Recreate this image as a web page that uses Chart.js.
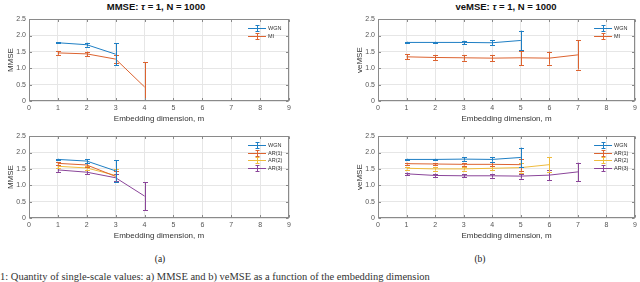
<!DOCTYPE html>
<html><head><meta charset="utf-8">
<script src="https://cdn.jsdelivr.net/npm/chart.js@4/dist/chart.umd.min.js"></script>
<style>
html,body{margin:0;padding:0;background:#fff;}
body{width:640px;height:282px;position:relative;overflow:hidden;font-family:'Liberation Sans',Arial,sans-serif;}
canvas{position:absolute;}
.ttl{position:absolute;font-weight:bold;font-size:9.5px;color:#111;white-space:nowrap;transform:translateX(-50%);top:1px;}
.cap{position:absolute;font-family:'Liberation Serif','Times New Roman',serif;font-size:9.5px;transform:translateX(-50%);top:254px;color:#222;}
.foot{position:absolute;left:0;top:271px;font-family:'Liberation Serif','Times New Roman',serif;font-size:10.5px;white-space:nowrap;color:#333;}
</style></head><body>
<div class="ttl" style="left:156px">MMSE: <i>τ</i> = 1, N = 1000</div>
<div class="ttl" style="left:506px">veMSE: <i>τ</i> = 1, N = 1000</div>
<canvas id="c1" width="300" height="120" style="left:0px;top:12px"></canvas>
<canvas id="c2" width="291" height="120" style="left:349px;top:12px"></canvas>
<canvas id="c3" width="300" height="120" style="left:0px;top:129px"></canvas>
<canvas id="c4" width="291" height="120" style="left:349px;top:129px"></canvas>
<div class="cap" style="left:160px">(a)</div>
<div class="cap" style="left:480px">(b)</div>
<div class="foot">1: Quantity of single-scale values: a) MMSE and b) veMSE as a function of the embedding dimension</div>
<script>
// ---- tick labels ----
const xTicks = [0,1,2,3,4,5,6,7,8,9];
const yTicks = [0,0.5,1,1.5,2,2.5];

// ---- categories (embedding dimension m) ----
const m3 = [1,2,3];
const m4 = [1,2,3,4];
const m5 = [1,2,3,4,5];
const m6 = [1,2,3,4,5,6];
const m7 = [1,2,3,4,5,6,7];

// ---- MMSE (top-left) ----
const mmseWGN    = [1.78,1.72,1.43];
const mmseWGNErr = [0.02,0.06,0.33];
const mmseMI     = [1.47,1.44,1.28,0.43];
const mmseMIErr  = [0.06,0.07,0.12,0.76];

// ---- veMSE (top-right) ----
const vemseWGN    = [1.79,1.79,1.79,1.78,1.85];
const vemseWGNErr = [0.02,0.02,0.05,0.07,0.30];
const vemseMI     = [1.35,1.33,1.32,1.31,1.32,1.31,1.41];
const vemseMIErr  = [0.08,0.08,0.09,0.10,0.22,0.20,0.45];

// ---- MMSE AR (bottom-left) ----
const mmseArWGN    = [1.79,1.74,1.44];
const mmseArWGNErr = [0.02,0.06,0.33];
const mmseAR1      = [1.67,1.62,1.27];
const mmseAR1Err   = [0.04,0.05,0.16];
const mmseAR2      = [1.58,1.53,1.30];
const mmseAR2Err   = [0.05,0.05,0.20];
const mmseAR3      = [1.47,1.40,1.23,0.67];
const mmseAR3Err   = [0.06,0.07,0.11,0.43];

// ---- veMSE AR (bottom-right) ----
const vemseArWGN    = [1.79,1.79,1.80,1.79,1.85];
const vemseArWGNErr = [0.02,0.02,0.05,0.07,0.30];
const vemseAR1      = [1.66,1.65,1.64,1.64,1.63];
const vemseAR1Err   = [0.03,0.03,0.04,0.06,0.18];
const vemseAR2      = [1.52,1.50,1.50,1.52,1.54,1.63];
const vemseAR2Err   = [0.04,0.05,0.05,0.06,0.15,0.22];
const vemseAR3      = [1.35,1.30,1.29,1.29,1.28,1.31,1.41];
const vemseAR3Err   = [0.04,0.06,0.05,0.06,0.08,0.15,0.28];

const C_BLUE='#1f7fc4', C_ORANGE='#dc6330', C_YELLOW='#efbb3c', C_PURPLE='#8a4599';
const FONT="'Liberation Sans', Arial, sans-serif";

const errPlugin = {
  id:'errbars',
  afterDatasetDraw(chart, args){
    const ds = chart.data.datasets[args.index];
    const ctx = chart.ctx, xs = chart.scales.x, ys = chart.scales.y, a = chart.chartArea;
    ctx.save();
    ctx.beginPath(); ctx.rect(a.left, a.top, a.right-a.left, a.bottom-a.top); ctx.clip();
    ctx.strokeStyle = ds.borderColor; ctx.lineWidth = 1;
    ds.data.forEach((p,i)=>{
      const e = ds.errors[i];
      const x = Math.round(xs.getPixelForValue(p.x)) + 0.5;
      const y1 = ys.getPixelForValue(p.y + e), y2 = ys.getPixelForValue(p.y - e);
      ctx.beginPath();
      ctx.moveTo(x, y1); ctx.lineTo(x, y2);
      ctx.moveTo(x-2.5, Math.round(y1)+0.5); ctx.lineTo(x+2.5, Math.round(y1)+0.5);
      ctx.moveTo(x-2.5, Math.round(y2)+0.5); ctx.lineTo(x+2.5, Math.round(y2)+0.5);
      ctx.stroke();
    });
    ctx.restore();
  }
};

const boxPlugin = {
  id:'box',
  afterDraw(chart){
    const ctx = chart.ctx, a = chart.chartArea, xs = chart.scales.x, ys = chart.scales.y;
    ctx.save();
    ctx.strokeStyle = '#8a8a8a'; ctx.lineWidth = 1;
    const L = Math.round(a.left)+0.5, R = Math.round(a.right)-0.5, T = Math.round(a.top)+0.5, B = Math.round(a.bottom)-0.5;
    ctx.beginPath();
    xTicks.forEach(v=>{
      const x = Math.round(xs.getPixelForValue(v))+0.5;
      ctx.moveTo(x, B); ctx.lineTo(x, B-2.5);
      ctx.moveTo(x, T); ctx.lineTo(x, T+2.5);
    });
    yTicks.forEach(v=>{
      const y = Math.round(ys.getPixelForValue(v))+0.5;
      ctx.moveTo(L, y); ctx.lineTo(L+2.5, y);
      ctx.moveTo(R, y); ctx.lineTo(R-2.5, y);
    });
    ctx.stroke();
    ctx.strokeRect(L, T, R-L, B-T);
    ctx.restore();
  }
};

const legendPlugin = {
  id:'errLegend',
  afterDraw(chart){
    const ctx = chart.ctx, a = chart.chartArea;
    ctx.save();
    ctx.font = '5.5px ' + FONT;
    ctx.textBaseline = 'middle'; ctx.textAlign = 'left';
    chart.data.datasets.forEach((ds,i)=>{
      const y = Math.round(a.top + 9 + i*7.6) + 0.5;
      const x0 = a.right - 41, x1 = a.right - 23, xm = Math.round((x0+x1)/2)+0.5;
      ctx.strokeStyle = ds.borderColor; ctx.lineWidth = 1;
      ctx.beginPath();
      ctx.moveTo(x0, y); ctx.lineTo(x1, y);
      ctx.moveTo(xm, y-3); ctx.lineTo(xm, y+3);
      ctx.moveTo(xm-2, y-3); ctx.lineTo(xm+2, y-3);
      ctx.moveTo(xm-2, y+3); ctx.lineTo(xm+2, y+3);
      ctx.stroke();
      ctx.fillStyle = '#333';
      ctx.fillText(ds.label, a.right - 21, y);
    });
    ctx.restore();
  }
};

function series(label, xs, ys, errs, color){
  return {label, data: xs.map((m,i)=>({x:m, y:ys[i]})), errors: errs,
    borderColor: color, backgroundColor: color, borderWidth: 1, pointRadius: 0, tension: 0, fill: false};
}

function makeChart(id, yLabel, datasets, padRight){
  new Chart(document.getElementById(id), {
    type:'line',
    data:{datasets},
    options:{
      responsive:false, animation:false, events:[],
      layout:{padding:{left:0, right:padRight, top:6, bottom:0}},
      plugins:{legend:{display:false}, tooltip:{enabled:false}, title:{display:false}},
      scales:{
        x:{type:'linear', min:0, max:9,
           afterBuildTicks: s=>{ s.ticks = xTicks.map(v=>({value:v})); },
           afterFit: s=>{ s.height = 31; },
           ticks:{font:{family:FONT, size:7}, color:'#555', padding:3, maxRotation:0, autoSkip:false},
           grid:{color:'#e6e6e6', drawTicks:false, lineWidth:1},
           border:{display:false},
           title:{display:true, text:'Embedding dimension, m', font:{family:FONT, size:8}, color:'#333', padding:{top:0, bottom:8}}
        },
        y:{type:'linear', min:0, max:2.5,
           afterBuildTicks: s=>{ s.ticks = yTicks.map(v=>({value:v})); },
           afterFit: s=>{ s.width = 29; },
           ticks:{font:{family:FONT, size:7}, color:'#555', padding:3},
           grid:{color:'#e6e6e6', drawTicks:false, lineWidth:1},
           border:{display:false},
           title:{display:true, text:yLabel, font:{family:FONT, size:8}, color:'#333', padding:{top:6, bottom:0}}
        }
      }
    },
    plugins:[errPlugin, boxPlugin, legendPlugin]
  });
}

makeChart('c1','MMSE',[
  series('WGN', m3, mmseWGN, mmseWGNErr, C_BLUE),
  series('MI', m4, mmseMI, mmseMIErr, C_ORANGE)
], 11);
makeChart('c2','veMSE',[
  series('WGN', m5, vemseWGN, vemseWGNErr, C_BLUE),
  series('MI', m7, vemseMI, vemseMIErr, C_ORANGE)
], 2);
makeChart('c3','MMSE',[
  series('WGN', m3, mmseArWGN, mmseArWGNErr, C_BLUE),
  series('AR(1)', m3, mmseAR1, mmseAR1Err, C_ORANGE),
  series('AR(2)', m3, mmseAR2, mmseAR2Err, C_YELLOW),
  series('AR(3)', m4, mmseAR3, mmseAR3Err, C_PURPLE)
], 11);
makeChart('c4','veMSE',[
  series('WGN', m5, vemseArWGN, vemseArWGNErr, C_BLUE),
  series('AR(1)', m5, vemseAR1, vemseAR1Err, C_ORANGE),
  series('AR(2)', m6, vemseAR2, vemseAR2Err, C_YELLOW),
  series('AR(3)', m7, vemseAR3, vemseAR3Err, C_PURPLE)
], 2);
</script>
</body></html>
